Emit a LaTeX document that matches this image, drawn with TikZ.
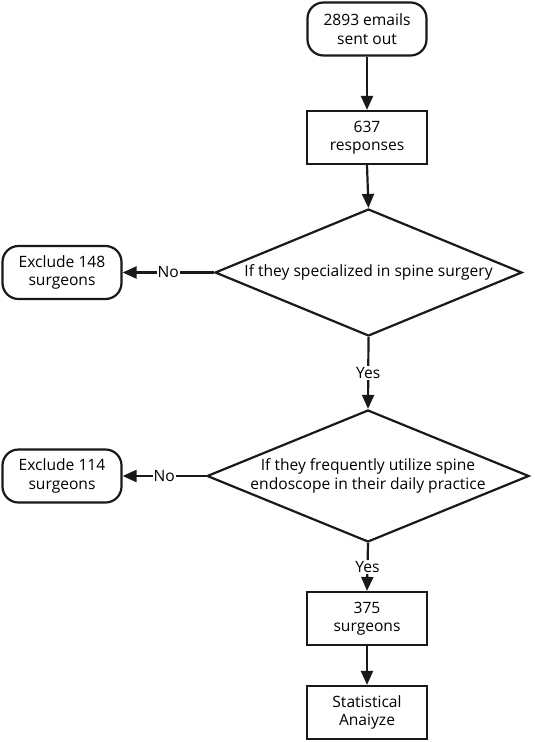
\documentclass[tikz,border=0pt]{standalone}
\usepackage{fontspec}
\setmainfont{Open Sans}
\usetikzlibrary{shapes.geometric,arrows.meta}
\tikzset{
  base/.style={draw=black!90, line width=2.2pt, align=center, inner sep=0pt,
    font=\fontsize{15.6}{18.5}\selectfont, text=black},
  procbox/.style={base, rectangle, minimum width=120pt, minimum height=53pt},
  roundbox/.style={base, rectangle, rounded corners=16pt, minimum width=119pt, minimum height=53pt},
  dia/.style={base, diamond},
  txt/.style={align=center, inner sep=0pt, font=\fontsize{15.6}{18.5}\selectfont, text=black},
  lbl/.style={fill=white, inner sep=1pt, font=\fontsize{15.6}{18}\selectfont, text=black},
  conn/.style={line width=2.2pt, draw=black!90, -{Triangle[length=14pt,width=12pt]}},
}
\begin{document}
\begin{tikzpicture}[x=1pt,y=-1pt]
\useasboundingbox (0,0) rectangle (535,742);
\node[roundbox] (start) at (367,29) {2893 emails\\sent out};
\node[procbox] (resp) at (367,137.5) {637\\responses};
\node[dia, minimum width=307pt, minimum height=127pt] (d1) at (368.5,272.5) {};
\node[txt] (d1t) at (d1.center) {If they specialized in spine surgery};
\node[roundbox] (ex1) at (62,272.5) {Exclude 148\\surgeons};
\node[dia, minimum width=322pt, minimum height=132pt] (d2) at (368,476) {};
\node[txt] (d2t) at (d2.center) {If they frequently utilize spine\\endoscope in their daily practice};
\node[roundbox] (ex2) at (62,476) {Exclude 114\\surgeons};
\node[procbox] (surg) at (367,618.5) {375\\surgeons};
\node[procbox] (stat) at (367,712.5) {Statistical\\Anaiyze};

\draw[conn] (start.south) -- (resp.north);
\draw[conn] (resp.south) -- (d1.north);
\draw[conn] (d1.west) -- node[lbl] {No} (ex1.east);
\draw[conn] (d1.south) -- node[lbl] {Yes} (d2.north);
\draw[conn] (d2.west) -- node[lbl] {No} (ex2.east);
\draw[conn] (d2.south) -- node[lbl] {Yes} (surg.north);
\draw[conn] (surg.south) -- (stat.north);
\end{tikzpicture}
\end{document}
